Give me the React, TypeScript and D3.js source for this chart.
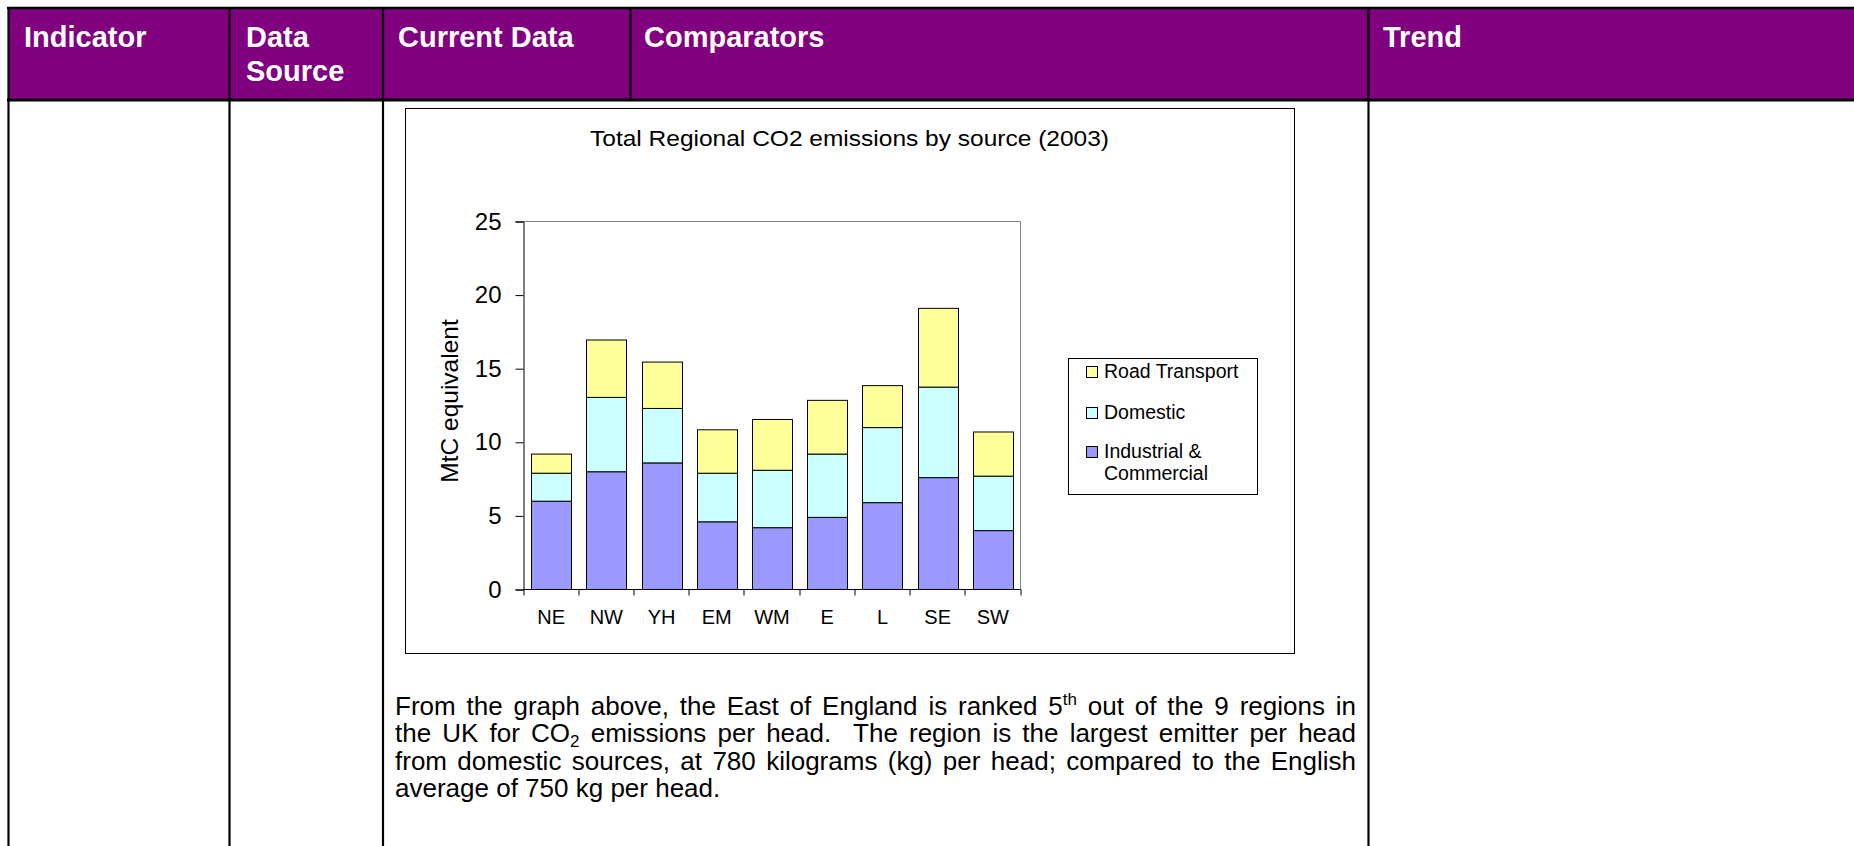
import React, { useEffect, useRef } from 'react';
import * as d3 from 'd3';

// Regional CO2 emissions 2003, MtC equivalent
const categories = ['NE', 'NW', 'YH', 'EM', 'WM', 'E', 'L', 'SE', 'SW'];
const industrial = [6.0, 8.0, 8.6, 4.6, 4.2, 4.9, 5.9, 7.6, 4.0];
const domestic = [1.9, 5.05, 3.7, 3.3, 3.9, 4.3, 5.1, 6.15, 3.7];
const roadTransport = [1.3, 3.9, 3.15, 2.95, 3.45, 3.65, 2.85, 5.35, 3.0];

const seriesKeys = ['industrial', 'domestic', 'road'];
const seriesColors = ['#9999FF', '#CCFFFF', '#FFFF99'];
const yTicks = [0, 5, 10, 15, 20, 25];

const chartTitle = 'Total Regional CO2 emissions by source (2003)';
const yLabel = 'MtC equivalent';
// legend order is top to bottom, series index in brackets
const legendItems = [
  { lines: ['Road Transport'], series: 2 },
  { lines: ['Domestic'], series: 1 },
  { lines: ['Industrial &', 'Commercial'], series: 0 },
];

const headerLabels = [['Indicator'], ['Data', 'Source'], ['Current Data'], ['Comparators'], ['Trend']];

type Seg = { t: string; sup?: boolean; sub?: boolean };
const paragraph: Seg[][] = [
  [{ t: 'From the graph above, the East of England is ranked 5' }, { t: 'th', sup: true }, { t: ' out of the 9 regions in' }],
  [{ t: 'the UK for CO' }, { t: '2', sub: true }, { t: ' emissions per head.  The region is the largest emitter per head' }],
  [{ t: 'from domestic sources, at 780 kilograms (kg) per head; compared to the English' }],
  [{ t: 'average of 750 kg per head.' }],
];

const W = 1854;
const H = 846;
const FONT = '"Liberation Sans", Arial, sans-serif';

export default function App() {
  const svgRef = useRef<SVGSVGElement>(null);

  useEffect(() => {
    document.body.style.margin = '0';
    document.body.style.overflow = 'hidden';
    if (!svgRef.current) return;
    const svg = d3.select(svgRef.current);
    svg.selectAll('*').remove();

    // ---- table frame ----
    const headerTop = 7;
    const headerBottom = 100;
    const headerX = [24, 246, 398, 644, 1383];

    svg.append('rect')
      .attr('x', 8).attr('y', headerTop)
      .attr('width', W - 8).attr('height', headerBottom - headerTop)
      .attr('fill', '#800080');

    const tbl = svg.append('g').attr('stroke', '#000');
    tbl.append('line').attr('x1', 7).attr('x2', W).attr('y1', headerTop + 1).attr('y2', headerTop + 1).attr('stroke-width', 2.5);
    tbl.append('line').attr('x1', 7).attr('x2', W).attr('y1', headerBottom).attr('y2', headerBottom).attr('stroke-width', 3);
    // vertical rules: [x, bottom]
    const rules: [number, number][] = [[8.5, H], [229.5, H], [383, H], [630.5, headerBottom], [1368.5, H]];
    rules.forEach(([x, y2]) => {
      tbl.append('line').attr('x1', x).attr('x2', x).attr('y1', headerTop).attr('y2', y2).attr('stroke-width', 2.2);
    });

    const hdr = svg.append('g')
      .attr('fill', '#fff')
      .attr('font-family', FONT)
      .attr('font-weight', 'bold')
      .attr('font-size', 29);
    headerLabels.forEach((lines, i) => {
      lines.forEach((ln, j) => {
        hdr.append('text').attr('x', headerX[i]).attr('y', 47 + j * 34).text(ln);
      });
    });

    // ---- chart box ----
    svg.append('rect')
      .attr('x', 405.5).attr('y', 108.5)
      .attr('width', 889).attr('height', 545)
      .attr('fill', '#fff').attr('stroke', '#000').attr('stroke-width', 1);

    svg.append('text')
      .attr('x', 590).attr('y', 146)
      .attr('font-family', FONT).attr('font-size', 22)
      .attr('textLength', 519).attr('lengthAdjust', 'spacingAndGlyphs')
      .text(chartTitle);

    const left = 523.5;
    const right = 1020.5;
    const top = 221.5;
    const bottom = 589.5;

    const x = d3.scaleBand<string>()
      .domain(categories)
      .range([left, right])
      .paddingInner(0.275)
      .paddingOuter(0.1375);

    const y = d3.scaleLinear().domain([0, 25]).range([bottom, top]);

    const rows = categories.map((c, i) => ({
      cat: c,
      industrial: industrial[i],
      domestic: domestic[i],
      road: roadTransport[i],
    }));
    const stacked = d3.stack<any>().keys(seriesKeys)(rows);

    // plot area border (grey, top/right)
    svg.append('path')
      .attr('d', `M${left},${top}H${right}V${bottom}`)
      .attr('fill', 'none').attr('stroke', '#808080').attr('stroke-width', 1);

    const bars = svg.append('g');
    stacked.forEach((layer, si) => {
      bars.append('g')
        .attr('fill', seriesColors[si])
        .attr('stroke', '#000')
        .attr('stroke-width', 1)
        .selectAll('rect')
        .data(layer)
        .join('rect')
        .attr('x', d => Math.round(x(d.data.cat)!) + 0.5)
        .attr('width', Math.round(x.bandwidth()))
        .attr('y', d => y(d[1]))
        .attr('height', d => y(d[0]) - y(d[1]));
    });

    // y axis
    const yAxis = svg.append('g')
      .attr('transform', `translate(${left},0)`)
      .call(d3.axisLeft(y).tickValues(yTicks).tickSize(8).tickPadding(14).tickFormat(d3.format('d')));
    yAxis.select('.domain').attr('stroke', '#000');
    yAxis.selectAll('.tick line').attr('stroke', '#000');
    yAxis.selectAll('.tick text')
      .attr('font-family', FONT).attr('font-size', 24).attr('fill', '#000');

    // x axis: Excel style ticks at category boundaries
    const step = x.step();
    const xg = svg.append('g');
    xg.append('line')
      .attr('x1', left).attr('x2', right).attr('y1', bottom).attr('y2', bottom)
      .attr('stroke', '#000');
    d3.range(categories.length + 1).forEach(i => {
      const tx = Math.round(left + i * step);
      xg.append('line')
        .attr('x1', tx).attr('x2', tx).attr('y1', bottom).attr('y2', bottom + 6)
        .attr('stroke', '#000');
    });
    xg.selectAll('text.cat')
      .data(categories)
      .join('text')
      .attr('class', 'cat')
      .attr('x', d => x(d)! + x.bandwidth() / 2)
      .attr('y', 624)
      .attr('text-anchor', 'middle')
      .attr('font-family', FONT).attr('font-size', 20)
      .text(d => d);

    svg.append('text')
      .attr('transform', 'translate(458,401) rotate(-90)')
      .attr('text-anchor', 'middle')
      .attr('font-family', FONT).attr('font-size', 24.5)
      .text(yLabel);

    // legend
    svg.append('rect')
      .attr('x', 1068.5).attr('y', 358.5)
      .attr('width', 189).attr('height', 136)
      .attr('fill', '#fff').attr('stroke', '#000').attr('stroke-width', 1);
    const legBase = [378, 419, 458];
    legendItems.forEach((item, i) => {
      svg.append('rect')
        .attr('x', 1086.5).attr('y', legBase[i] - 11.5)
        .attr('width', 11).attr('height', 11)
        .attr('fill', seriesColors[item.series]).attr('stroke', '#000');
      item.lines.forEach((ln, j) => {
        svg.append('text')
          .attr('x', 1104).attr('y', legBase[i] + j * 22)
          .attr('font-family', FONT).attr('font-size', 19.5)
          .text(ln);
      });
    });

    // ---- paragraph under the chart, justified like the Word original ----
    const paraX = 395;
    const paraW = 961;
    const fs = 26;
    paragraph.forEach((segs, i) => {
      const t = svg.append('text')
        .attr('x', paraX).attr('y', 715 + i * 27.4)
        .attr('font-family', FONT).attr('font-size', fs)
        .style('white-space', 'pre');
      let shift = 0;
      segs.forEach(s => {
        const target = s.sup ? -10 : s.sub ? 5 : 0;
        t.append('tspan')
          .attr('dy', target - shift)
          .attr('font-size', s.sup || s.sub ? 17 : fs)
          .text(s.t);
        shift = target;
      });
      if (i < paragraph.length - 1) {
        const node = t.node() as SVGTextElement;
        const natural = node.getComputedTextLength();
        const spaces = segs.map(s => s.t).join('').split(' ').length - 1;
        const extra = (paraW - natural) / spaces;
        t.style('word-spacing', `${extra}px`);
        const after = node.getComputedTextLength();
        if (Math.abs(after - paraW) > 3) {
          t.style('word-spacing', null)
            .attr('textLength', paraW).attr('lengthAdjust', 'spacing');
        }
      }
    });
  }, []);

  return (
    <svg ref={svgRef} width={W} height={H} style={{ display: 'block', background: '#fff' }} />
  );
}
